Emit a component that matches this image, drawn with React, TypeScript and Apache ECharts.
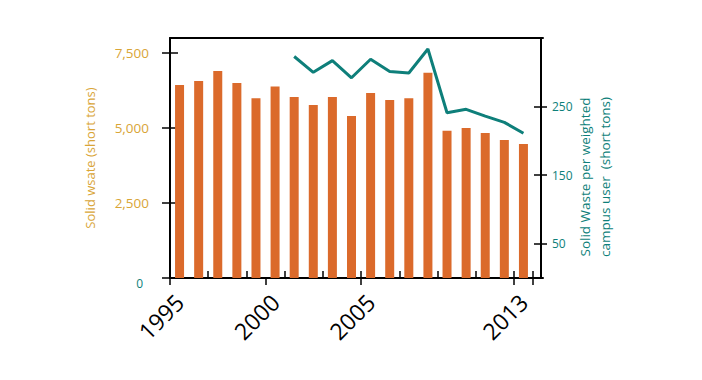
import React, { useEffect, useRef } from "react";
import * as echarts from "echarts";

const years = ["1995","1996","1997","1998","1999","2000","2001","2002","2003","2004","2005","2006","2007","2008","2009","2010","2011","2012","2013"];
const solidWaste = [6430, 6570, 6900, 6500, 5990, 6380, 6030, 5770, 6030, 5400, 6170, 5930, 5990, 6840, 4910, 5000, 4830, 4600, 4470];
const perUser = [null, null, null, null, null, null, 323, 300, 317, 292, 319, 301, 299, 334, 241, 246, 236, 227, 211];
const leftTicks = [0, 2500, 5000, 7500];
const rightTicks = [50, 150, 250];
const shownYearIdx = [0, 5, 10, 18];

const ORANGE = "#DB6A2B";
const TEAL = "#0E7F7A";
const GOLD = "#D9A537";
const FONT = "Open Sans";

export default function App() {
  const ref = useRef<HTMLDivElement>(null);
  useEffect(() => {
    const chart = echarts.init(ref.current!, null, { renderer: "svg" });
    const tickStyle = { color: "#000", width: 1.5 };
    chart.setOption({
      animation: false,
      textStyle: { fontFamily: FONT },
      grid: [
        { left: 162, top: 30, right: 177, bottom: 110 },
        { left: 162, top: 30, right: 167, bottom: 110 },
      ],
      xAxis: [
        {
          type: "category", gridIndex: 0, position: "bottom", data: years,
          axisLine: { show: true, lineStyle: { color: "#000", width: 2 } },
          axisTick: { show: true, length: 7, inside: false, lineStyle: tickStyle },
          axisLabel: {
            interval: (i: number) => shownYearIdx.includes(i),
            rotate: 45, fontSize: 23, color: "#000", margin: 20, fontFamily: FONT,
          },
        },
        {
          type: "category", gridIndex: 0, position: "bottom", data: years,
          axisLine: { show: false },
          axisTick: { show: true, length: 7, inside: true, lineStyle: tickStyle },
          axisLabel: { show: false },
        },
        {
          type: "value", gridIndex: 1, position: "bottom",
          axisLine: { show: true, lineStyle: { color: "#000", width: 2 } },
          axisTick: { show: false }, axisLabel: { show: false }, splitLine: { show: false },
        },
        {
          type: "value", gridIndex: 1, position: "top",
          axisLine: { show: true, lineStyle: { color: "#000", width: 2 } },
          axisTick: { show: false }, axisLabel: { show: false }, splitLine: { show: false },
        },
      ],
      yAxis: [
        {
          type: "value", gridIndex: 0, position: "left", min: 0, max: 8000,
          axisLine: { show: true, lineStyle: { color: "#000", width: 2 } },
          axisTick: { show: true, length: 8, customValues: leftTicks, lineStyle: tickStyle },
          splitLine: { show: false },
          axisLabel: {
            customValues: leftTicks, color: GOLD, fontSize: 13.5, margin: 21, fontFamily: FONT,
            formatter: (v: number) => (v === 0 ? "{z|0}" : v.toLocaleString("en-US")),
            rich: { z: { color: TEAL, fontSize: 12, fontFamily: FONT, padding: [10, 6, 0, 0] } },
          },
          name: "Solid wsate (short tons)", nameLocation: "middle", nameRotate: 90, nameGap: 74,
          nameTextStyle: { color: GOLD, fontSize: 13, fontFamily: FONT },
        },
        {
          type: "value", gridIndex: 0, position: "left", min: 0, max: 8000,
          axisLine: { show: false },
          axisTick: { show: true, length: 8, inside: true, customValues: leftTicks, lineStyle: tickStyle },
          splitLine: { show: false }, axisLabel: { show: false },
        },
        {
          type: "value", gridIndex: 0, position: "right", offset: 8, min: 0, max: 350,
          axisLine: { show: true, lineStyle: { color: "#000", width: 2 } },
          axisTick: { show: true, length: 6, customValues: rightTicks, lineStyle: tickStyle },
          splitLine: { show: false },
          axisLabel: { customValues: rightTicks, color: TEAL, fontSize: 12, margin: 11, fontFamily: FONT },
          name: "Solid Waste per weighted\ncampus user  (short tons)", nameLocation: "middle", nameRotate: 90, nameGap: 34,
          nameMoveOverlap: false,
          nameTextStyle: { color: TEAL, fontSize: 13.5, fontFamily: FONT, lineHeight: 20, padding: [0, 38, 0, 0] },
        },
        {
          type: "value", gridIndex: 0, position: "right", offset: 8, min: 0, max: 350,
          axisLine: { show: false },
          axisTick: { show: true, length: 7, inside: true, customValues: rightTicks, lineStyle: tickStyle },
          splitLine: { show: false }, axisLabel: { show: false },
        },
        { type: "value", gridIndex: 1, show: false },
      ],
      series: [
        {
          type: "bar", xAxisIndex: 0, yAxisIndex: 0, data: solidWaste, barWidth: 9,
          itemStyle: { color: ORANGE },
        },
        {
          type: "line", xAxisIndex: 0, yAxisIndex: 2, data: perUser, symbol: "none",
          lineStyle: { color: TEAL, width: 3 },
        },
      ],
    });
    return () => chart.dispose();
  }, []);
  return <div ref={ref} style={{ width: 702, height: 380 }} />;
}
